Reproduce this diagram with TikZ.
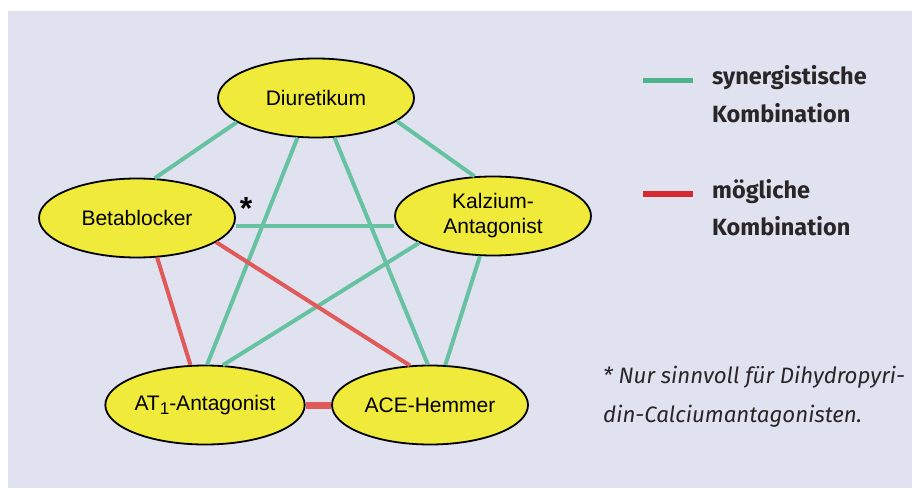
\documentclass[tikz,border=0pt]{standalone}
\usepackage{fontspec}
\setmainfont{Liberation Sans}
\newfontfamily\legendfont{Fira Sans}
\definecolor{bgblue}{HTML}{E0E2F0}
\definecolor{drugyellow}{HTML}{F0EA3A}
\definecolor{syngreen}{HTML}{66C2A0}
\definecolor{posred}{HTML}{E05A5A}
\definecolor{legreen}{HTML}{4DB38A}
\definecolor{legred}{HTML}{D42A30}
\definecolor{legtext}{HTML}{2A2628}
\tikzset{
  drug/.style={ellipse, draw=black, line width=1.8pt, fill=drugyellow,
    minimum width=196pt, minimum height=79pt, inner sep=0pt,
    font=\fontsize{21}{25}\selectfont, align=center},
  synergy/.style={syngreen, line width=4pt},
  possible/.style={posred, line width=4pt},
  legtxt/.style={anchor=base west, inner sep=0pt, text=legtext,
    font=\legendfont\bfseries\fontsize{23.5}{23.5}\selectfont},
  notetxt/.style={anchor=base west, inner sep=0pt, text=legtext,
    font=\legendfont\itshape\fontsize{22.3}{22.3}\selectfont}
}
\usetikzlibrary{shapes.geometric}
\begin{document}
\begin{tikzpicture}[x=1pt, y=1pt]
  % background
  \fill[white] (0,0) rectangle (912,488);
  \fill[bgblue] (8,0) rectangle (912,477);
  \useasboundingbox (0,0) rectangle (912,488);

  % the five drug classes
  \node[drug] (diur) at (316,390) {Diuretikum};
  \node[drug] (beta) at (137,270) {Betablocker};
  \node[drug] (kalz) at (493,272) {Kalzium-\\Antagonist};
  \node[drug] (at1)  at (205,83)  {AT\raisebox{-4pt}{\fontsize{17}{17}\selectfont 1}-Antagonist};
  \node[drug] (ace)  at (430,83)  {ACE-Hemmer};

  % combinations
  \draw[synergy] (diur.197) -- (beta.66);
  \draw[synergy] (diur.-16) -- (kalz.115);
  \draw[synergy] (diur.245) -- (at1.87);
  \draw[synergy] (diur.295) -- (ace.93);
  \draw[synergy] ([xshift=2pt]beta.-5) -- (beta.-5 -| kalz.west);
  \draw[synergy] (kalz.200) -- (at1.66);
  \draw[synergy] (kalz.252) -- (ace.69);
  \draw[possible] (beta.297) -- (at1.110);
  \draw[possible] (beta.-17) -- (ace.117);
  \draw[possible, line width=7pt] (at1.east) -- (ace.west);

  \node[font=\fontsize{32}{32}\selectfont\bfseries] (star) at (246,280) {*};

  % legend
  \coordinate (g1) at (643,407);
  \coordinate (g2) at (693,407);
  \coordinate (r1) at (643,294);
  \coordinate (r2) at (693,294);
  \draw[legreen, line width=5pt] (g1) -- (g2);
  \draw[legred, line width=5pt] (r1) -- (r2);
  \node[legtxt] (syn1) at (712,403) {synergistische};
  \node[legtxt] (syn2) at (712,365) {Kombination};
  \node[legtxt] (pos1) at (712,290) {mögliche};
  \node[legtxt] (pos2) at (712,253) {Kombination};

  % footnote
  \node[notetxt] (note1) at (603,105) {* Nur sinnvoll für Dihydropyri-};
  \node[notetxt] (note2) at (603,66)  {din-Calciumantagonisten.};
\end{tikzpicture}
\end{document}
